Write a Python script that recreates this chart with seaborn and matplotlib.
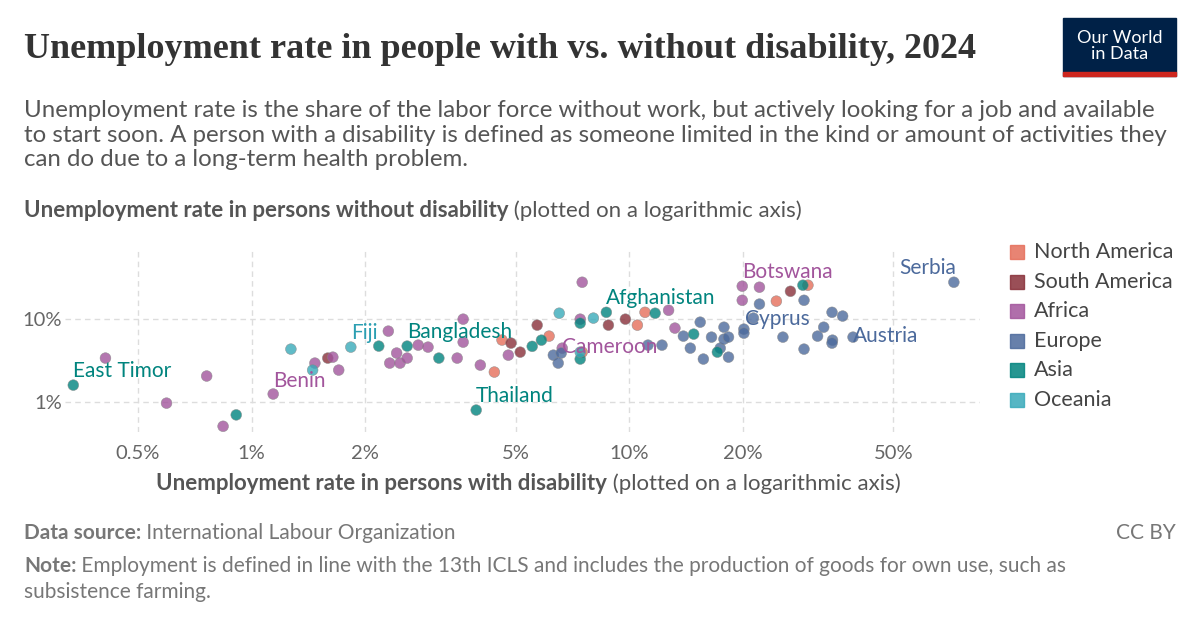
import matplotlib
matplotlib.use("Agg")
import matplotlib.pyplot as plt
import matplotlib.ticker as mticker
from matplotlib.patches import Rectangle
import pandas as pd
import seaborn as sns

# unemployment rate (%) with disability (x) / without disability (y), by region
north_america_x = [4.39, 4.6, 6.13, 7.5, 10.5, 11.0, 24.5, 29.7]
north_america_y = [2.3, 5.6, 6.24, 4.0, 8.47, 12.1, 16.5, 25.7]
south_america_x = [1.59, 4.86, 5.14, 5.7, 8.8, 9.76, 26.7]
south_america_y = [3.39, 5.14, 4.0, 8.47, 8.47, 10.0, 21.7]
africa_x = [0.41, 0.76, 0.595, 0.84, 1.14, 1.47, 1.64, 1.7, 2.3, 2.32, 2.42, 2.47, 2.58,
            2.76, 2.93, 3.5, 3.63, 3.63, 4.03, 4.78, 6.64, 7.5, 7.41, 12.7, 13.2, 19.9, 19.9, 22.1]
africa_y = [3.39, 2.06, 0.97, 0.51, 1.25, 2.95, 3.48, 2.43, 7.17, 2.95, 3.9, 2.95, 3.39,
            4.86, 4.6, 3.39, 10.0, 5.28, 2.79, 3.68, 4.47, 27.9, 10.0, 12.8, 7.8, 25.0, 16.9, 24.3]
europe_x = [6.29, 6.6, 6.48, 11.2, 12.2, 13.9, 14.5, 15.4, 15.7, 16.5, 17.4, 17.8, 17.8, 18.3,
            18.3, 20.1, 20.1, 21.3, 22.1, 25.5, 29.0, 29.0, 31.5, 32.7, 34.4, 34.5, 34.4, 36.7, 39.1, 72.3]
europe_y = [3.68, 3.9, 2.95, 4.86, 4.86, 6.24, 4.47, 9.2, 3.3, 6.07, 4.47, 8.0, 5.74, 6.07,
            3.48, 7.58, 6.78, 10.3, 15.2, 6.07, 16.9, 4.35, 6.24, 8.0, 12.1, 5.58, 5.14, 10.9, 6.07, 27.9]
asia_x = [0.337, 0.91, 3.93, 2.17, 2.58, 3.13, 5.53, 5.85, 7.41, 7.41, 8.69, 11.7, 14.8, 17.1, 28.8]
asia_y = [1.6, 0.70, 0.80, 4.73, 4.73, 3.39, 4.7, 5.58, 8.95, 3.3, 12.1, 11.8, 6.6, 4.0, 25.7]
oceania_x = [1.27, 1.45, 1.83, 6.52, 8.03, 7.41]
oceania_y = [4.35, 2.43, 4.6, 11.8, 10.3, 4.0]

regions = ["North America", "South America", "Africa", "Europe", "Asia", "Oceania"]
colors = ["#E56E5A", "#883039", "#A2559C", "#4C6A9C", "#00847E", "#38AABA"]
label_colors = ["#C94E3B", "#883039", "#A2559C", "#4C6A9C", "#00847E", "#2C9FB2"]

# labelled countries: name, region, x, y
labels = [("East Timor", "Asia", 0.337, 1.6), ("Benin", "Africa", 1.14, 1.25),
          ("Fiji", "Oceania", 1.83, 4.6), ("Bangladesh", "Asia", 2.58, 4.73),
          ("Thailand", "Asia", 3.93, 0.80), ("Afghanistan", "Asia", 8.69, 12.1),
          ("Cameroon", "Africa", 6.64, 4.47), ("Botswana", "Africa", 19.9, 25.0),
          ("Cyprus", "Europe", 21.3, 10.3), ("Serbia", "Europe", 72.3, 27.9),
          ("Austria", "Europe", 39.1, 6.07)]

series = [(north_america_x, north_america_y), (south_america_x, south_america_y),
          (africa_x, africa_y), (europe_x, europe_y), (asia_x, asia_y), (oceania_x, oceania_y)]
frames = [pd.DataFrame({"x": sx, "y": sy, "region": r}) for r, (sx, sy) in zip(regions, series)]
df = pd.concat(frames, ignore_index=True)

sns.set_style("white")
plt.rcParams["font.family"] = ["Lato", "DejaVu Sans"]

fig = plt.figure(figsize=(12, 6.27), dpi=100)
ax = fig.add_axes([0.054, 0.311, 0.763, 0.29])

sns.scatterplot(data=df, x="x", y="y", hue="region", hue_order=regions,
                palette=dict(zip(regions, colors)), s=60, alpha=0.8,
                edgecolor="#888888", linewidth=0.4, legend=False, ax=ax)

ax.set_xscale("log")
ax.set_yscale("log")
ax.set_xlim(0.32, 85)
ax.set_ylim(0.435, 68)
xt = [0.5, 1, 2, 5, 10, 20, 50]
ax.set_xticks(xt)
ax.set_xticklabels([f"{v:g}%" for v in xt])
ax.set_yticks([1, 10])
ax.set_yticklabels(["1%", "10%"])
ax.xaxis.set_minor_locator(mticker.NullLocator())
ax.yaxis.set_minor_locator(mticker.NullLocator())
ax.grid(True, color="#dddddd", linestyle=(0, (4, 3)), linewidth=1)
for s in ax.spines.values():
    s.set_visible(False)
ax.tick_params(axis="both", length=0, labelsize=14.5, labelcolor="#666666", pad=9)
ax.tick_params(axis="y", pad=2)
ax.set_xlabel("")
ax.set_ylabel("")

reg_col = dict(zip(regions, label_colors))
fs_lab = 15
for name, reg, lx, ly in labels:
    c = reg_col[reg]
    if name == "Serbia":
        ax.annotate(name, (lx, ly), xytext=(2, 3), textcoords="offset points",
                    ha="right", va="bottom", color=c, fontsize=fs_lab)
    elif name == "Cyprus":
        ax.annotate(name, (lx, ly), xytext=(-6, -1), textcoords="offset points",
                    ha="left", va="center", color=c, fontsize=fs_lab)
    elif name == "Benin":
        ax.annotate(name, (lx, ly), xytext=(0, 2), textcoords="offset points",
                    ha="left", va="bottom", color=c, fontsize=fs_lab)
    elif name in ("Cameroon", "Austria"):
        ax.annotate(name, (lx, ly), xytext=(0, 1), textcoords="offset points",
                    ha="left", va="center", color=c, fontsize=fs_lab)
    else:
        ax.annotate(name, (lx, ly), xytext=(0, 3), textcoords="offset points",
                    ha="left", va="bottom", color=c, fontsize=fs_lab)

# legend
for i, (r, c) in enumerate(zip(regions, colors)):
    yy = 1 - (252 + i * 29.6) / 627
    fig.patches.append(Rectangle((1010 / 1200, yy - 7 / 627), 14 / 1200, 14 / 627,
                                 transform=fig.transFigure, color=c, alpha=0.85))
    fig.text(1034 / 1200, yy, r, fontsize=15.5, color="#444444", va="center")


def two_part(x, y, bold, normal, size, color, ha="left"):
    t1 = fig.text(x, y, bold, fontsize=size, fontweight="bold", color=color, va="baseline")
    fig.canvas.draw()
    r = fig.canvas.get_renderer()
    w1 = t1.get_window_extent(r).width / fig.bbox.width
    t2 = fig.text(x + w1, y, normal, fontsize=size, color=color, va="baseline")
    if ha == "center":
        w2 = t2.get_window_extent(r).width / fig.bbox.width
        shift = (w1 + w2) / 2
        t1.set_x(x - shift)
        t2.set_x(x - shift + w1)


fig.text(24 / 1200, 1 - 58 / 627, "Unemployment rate in people with vs. without disability, 2024",
         fontsize=26, fontweight="bold", family=["Liberation Serif", "DejaVu Serif"],
         color="#333333", va="baseline")
fig.text(24 / 1200, 1 - 166 / 627,
         "Unemployment rate is the share of the labor force without work, but actively looking for a job and available\n"
         "to start soon. A person with a disability is defined as someone limited in the kind or amount of activities they\n"
         "can do due to a long-term health problem.",
         fontsize=17.3, color="#555555", va="baseline", linespacing=1.2)

two_part(24 / 1200, 1 - 217 / 627, "Unemployment rate in persons without disability",
         " (plotted on a logarithmic axis)", 16, "#555555")
two_part(528 / 1200, 1 - 490 / 627, "Unemployment rate in persons with disability",
         " (plotted on a logarithmic axis)", 16, "#555555", ha="center")
two_part(24 / 1200, 1 - 539 / 627, "Data source:", " International Labour Organization", 15, "#777777")
fig.text(1176 / 1200, 1 - 539 / 627, "CC BY", fontsize=15, color="#777777", ha="right", va="baseline")
two_part(24 / 1200, 1 - 572 / 627, "Note:",
         " Employment is defined in line with the 13th ICLS and includes the production of goods for own use, such as",
         15, "#777777")
fig.text(24 / 1200, 1 - 598 / 627, "subsistence farming.", fontsize=15, color="#777777", va="baseline")

# logo
fig.patches.append(Rectangle((1063 / 1200, 1 - 76 / 627), 113 / 1200, 58 / 627,
                             transform=fig.transFigure, color="#002147"))
fig.patches.append(Rectangle((1063 / 1200, 1 - 76 / 627), 113 / 1200, 4 / 627,
                             transform=fig.transFigure, color="#CE261E"))
fig.text(1119.5 / 1200, 1 - 46 / 627, "Our World\nin Data", fontsize=13, color="white",
         ha="center", va="center", linespacing=1.05)

fig.savefig("out.png", dpi=100, facecolor="white")
